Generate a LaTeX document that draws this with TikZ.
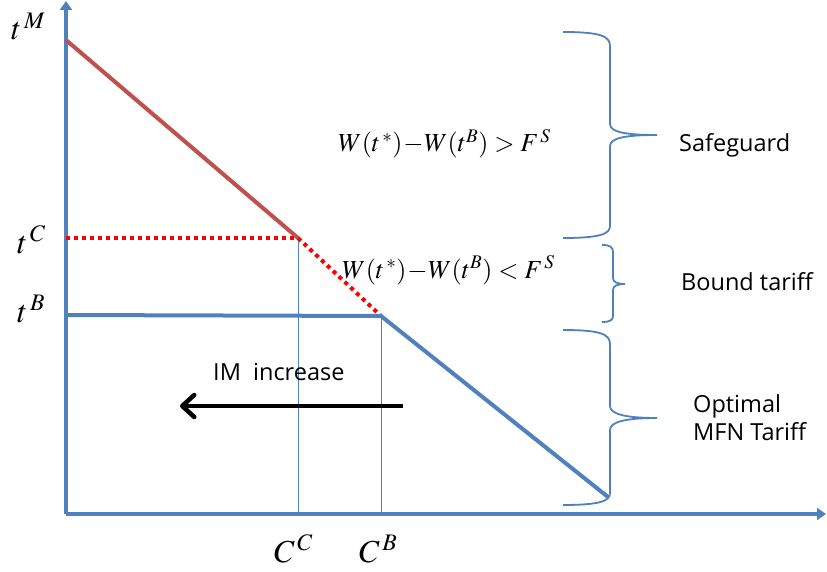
\documentclass[tikz,border=0pt]{standalone}
\usepackage{mathptmx}
\usepackage[no-math]{fontspec}
\newfontfamily\gothic{Open Sans}
\usetikzlibrary{arrows.meta}
\definecolor{axisblue}{RGB}{79,129,189}
\definecolor{linered}{RGB}{192,80,77}

\begin{document}
\begin{tikzpicture}[x=1pt,y=-1pt,>=stealth,
  axis/.style={axisblue,line width=3.5pt,-{Triangle[length=9pt,width=12pt]}},
  guide/.style={axisblue,line width=1pt},
  brc/.style={axisblue,line width=1.8pt},
  dots/.style={red,line width=4pt,dash pattern=on 4pt off 4pt},
  lbl/.style={font=\gothic\fontsize{23.5}{27}\selectfont,inner sep=0pt,anchor=base west},
  eq/.style={font=\fontsize{26}{30}\selectfont,inner sep=0pt,anchor=base west},
  ax/.style={font=\fontsize{32}{36}\selectfont,inner sep=0pt,anchor=base west}]
\useasboundingbox (0,0) rectangle (827,572);
\coordinate (O) at (66,514);\coordinate (Y) at (66,1);\coordinate (X) at (826,514);
\coordinate (M) at (66,40);\coordinate (C) at (298,238);\coordinate (K) at (381,316);
\coordinate (tC) at (66,238);\coordinate (tB) at (66,315);\coordinate (E) at (608,497);
\coordinate (A) at (403,406);\coordinate (Z) at (180,406);
\draw[guide] (C)--(C|-O);
\draw[guide] (K)--(K|-O);
\draw[axis] (O)--(Y);
\draw[axis] (O)--(X);
\draw[linered,line width=4pt] (M)--(C);
\draw[dots] (tC)--(C);
\draw[dots] (C)--(K);
\draw[axisblue,line width=4pt,line join=round] (tB)--(K)--(E);
\draw[line width=4.5pt,-{Straight Barb[length=12pt,width=22pt,round]}] (A)--(Z);
\node[ax] (lM) at (11,40) {$t^{\,M}$};
\node[ax] (lC) at (17,253) {$t^{\,C}$};
\node[ax] (lB) at (17,322) {$t^{\,B}$};
\node[ax] (cC) at (274,562) {$C^{\,C}$};
\node[ax] (cB) at (359,562) {$C^{\,B}$};
\node[eq] (q1) at (338,152) {$W(t^{\,*})\!-\!W(t^{B})>F^{\,S}$};
\node[eq] (q2) at (342,278) {$W(t^{\,*})\!-\!W(t^{B})<F^{\,S}$};
\node[lbl] (sg) at (679,152) {Safeguard};
\node[lbl] (bt) at (681,290) {Bound tariff};
\node[lbl] (op) at (693,412) {Optimal};
\node[lbl] (mf) at (693,440) {MFN Tariff};
\node[lbl] (im) at (213,380) {IM\ \ increase};
\draw[brc] (563,32) .. controls (600,32) and (610,36) .. (610,46) -- (610,124)
  .. controls (610,132) and (625,135) .. (657,135) .. controls (625,135) and (610,138) .. (610,146)
  -- (610,226) .. controls (610,234) and (600,238) .. (563,238);
\draw[brc] (602,245) .. controls (610,245) and (613,247) .. (613,252) -- (613,278)
  .. controls (613,282) and (617,284) .. (625,284) .. controls (617,284) and (613,286) .. (613,290)
  -- (613,316) .. controls (613,320) and (610,322) .. (602,322);
\draw[brc] (563,330) .. controls (600,330) and (610,334) .. (610,344) -- (610,406)
  .. controls (610,414) and (625,418) .. (657,418) .. controls (625,418) and (610,422) .. (610,430)
  -- (610,493) .. controls (610,501) and (600,505) .. (563,505);
\end{tikzpicture}
\end{document}
